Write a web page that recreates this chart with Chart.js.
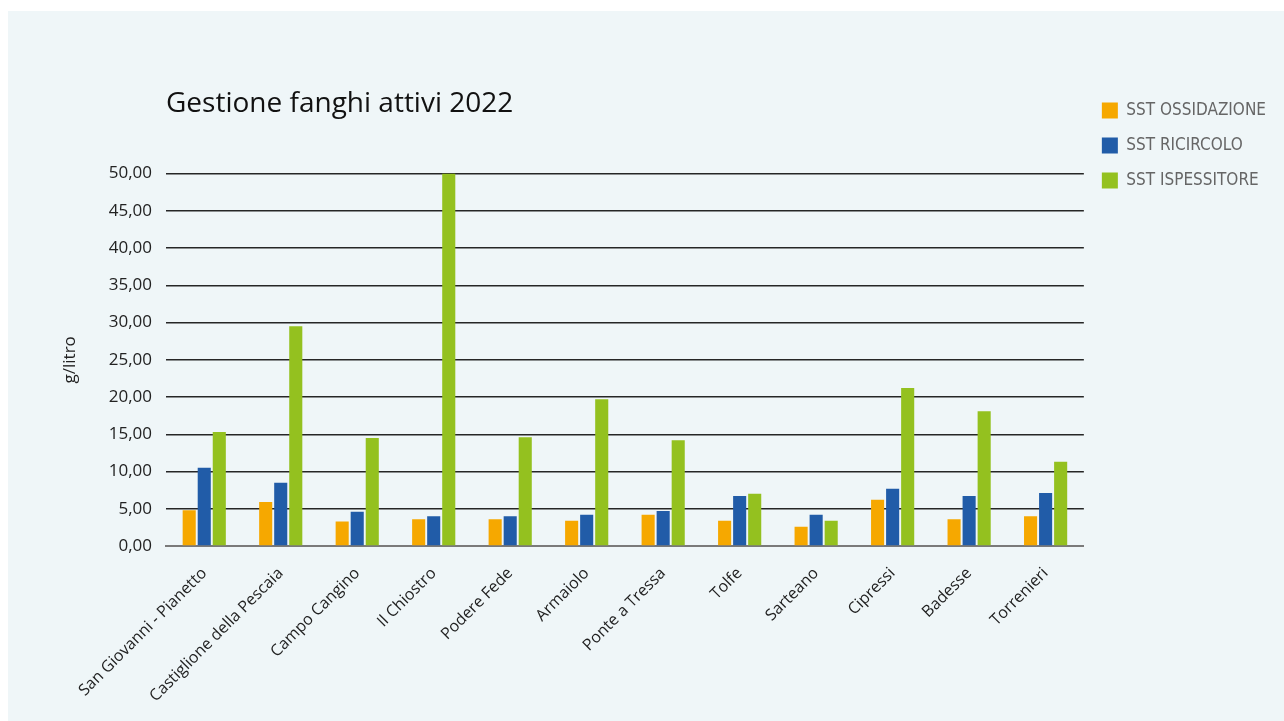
<!DOCTYPE html>
<html>
<head>
<meta charset="utf-8">
<script src="https://cdn.jsdelivr.net/npm/chart.js@4"></script>
<style>
  body { margin: 0; background: #ffffff; }
  .panel { position: absolute; left: 8px; top: 11px; right: 0; bottom: 0; background: #eff6f8; }
  #chart { position: absolute; left: 0; top: 0; }
</style>
</head>
<body>
<div class="panel"></div>
<canvas id="chart" width="1284" height="721"></canvas>
<script>
const impianti = [
  "San Giovanni - Pianetto", "Castiglione della Pescaia", "Campo Cangino", "Il Chiostro",
  "Podere Fede", "Armaiolo", "Ponte a Tressa", "Tolfe", "Sarteano", "Cipressi", "Badesse", "Torrenieri"
];
const sstOssidazione = [4.8, 5.9, 3.3, 3.6, 3.6, 3.4, 4.2, 3.4, 2.6, 6.2, 3.6, 4.0];
const sstRicircolo = [10.5, 8.5, 4.6, 4.0, 4.0, 4.2, 4.7, 6.7, 4.2, 7.7, 6.7, 7.1];
const sstIspessitore = [15.3, 29.5, 14.5, 50.0, 14.6, 19.7, 14.2, 7.0, 3.4, 21.2, 18.1, 11.3];
const yTicks = [0, 5, 10, 15, 20, 25, 30, 35, 40, 45, 50];

function main() {
  const ctx = document.querySelector("#chart");
  Chart.defaults.font.family = "'Open Sans', sans-serif";
  Chart.defaults.color = "#222";

  new Chart(ctx, {
    type: "bar",
    data: {
      labels: impianti,
      datasets: [
        { label: "SST OSSIDAZIONE", data: sstOssidazione, backgroundColor: "#f6a800" },
        { label: "SST RICIRCOLO", data: sstRicircolo, backgroundColor: "#215ca8" },
        { label: "SST ISPESSITORE", data: sstIspessitore, backgroundColor: "#94c11f" },
      ],
    },
    options: {
      responsive: false,
      animation: false,
      categoryPercentage: 0.59,
      barPercentage: 0.87,
      layout: { padding: { top: 84, left: 40, right: 8, bottom: 15 } },
      scales: {
        x: {
          grid: { display: false },
          border: { color: "#7a7a7a", width: 2 },
          ticks: { font: { size: 16 }, maxRotation: 45, minRotation: 45, padding: 10 },
          afterFit: (s) => { s.height = 160; },
        },
        y: {
          min: 0,
          max: 50,
          border: { display: false },
          grid: {
            drawTicks: false,
            lineWidth: 1.5,
            color: (c) => (c.index === 0 ? "#7a7a7a" : "#262626"),
          },
          afterBuildTicks: (s) => { s.ticks = yTicks.map((v) => ({ value: v })); },
          ticks: {
            font: { size: 17 },
            padding: 14,
            callback: (v) => v.toFixed(2).replace(".", ","),
          },
          title: { display: true, text: "g/litro", font: { size: 17 }, padding: { top: 20, bottom: 0 } },
          afterFit: (s) => { s.width = 126; },
        },
      },
      plugins: {
        title: {
          display: true,
          text: "Gestione fanghi attivi 2022",
          align: "start",
          fullSize: false,
          color: "#111",
          font: { size: 28, weight: "normal" },
          padding: { top: 3, bottom: 53 },
        },
        legend: {
          position: "right",
          align: "start",
          labels: {
            boxWidth: 16,
            boxHeight: 16,
            padding: 18,
            color: "#666",
            font: { family: "'Liberation Sans Narrow', 'DejaVu Sans Condensed', sans-serif", size: 17 },
          },
        },
        tooltip: { enabled: false },
      },
    },
  });
}

main();
</script>
</body>
</html>
